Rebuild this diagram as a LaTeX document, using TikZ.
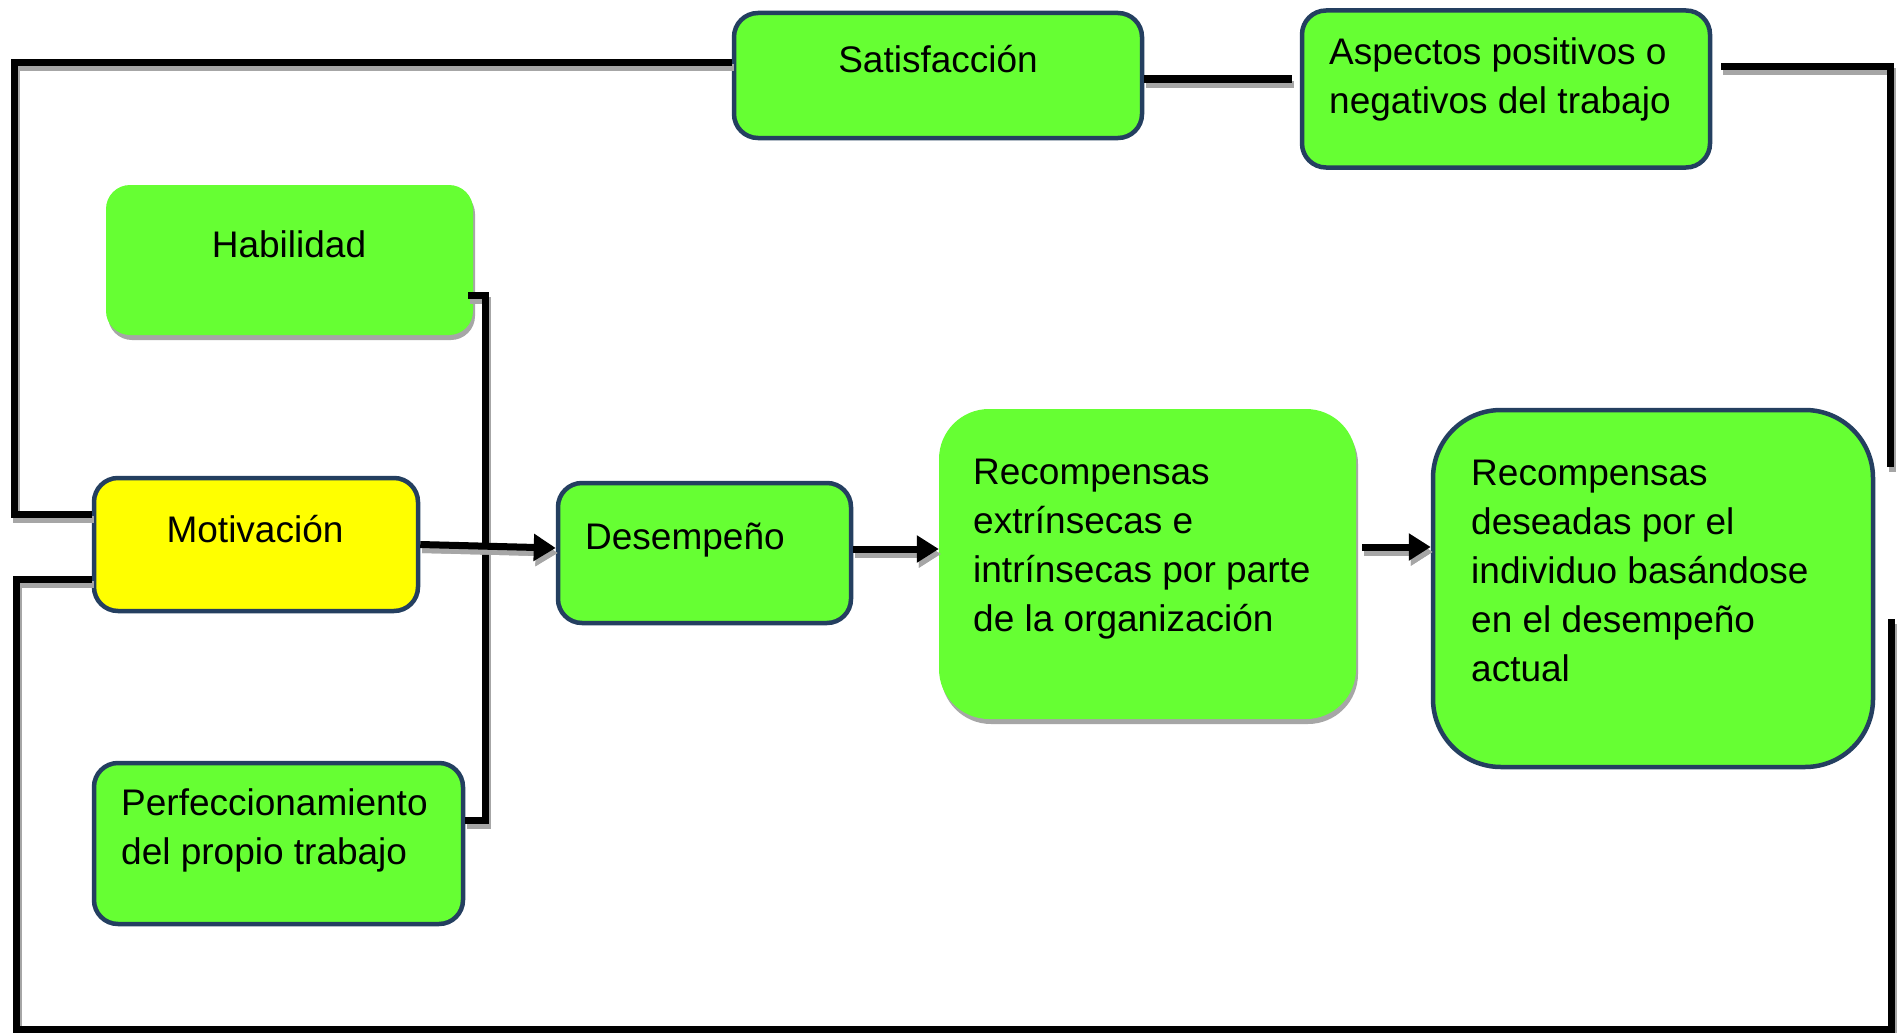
\documentclass[tikz,border=0pt]{standalone}
\usepackage{fontspec}
\setmainfont{Liberation Sans}
\usetikzlibrary{arrows.meta,shadows}
\definecolor{boxgreen}{HTML}{66FF33}
\definecolor{boxyellow}{HTML}{FFFF00}
\definecolor{boxborder}{HTML}{243F60}
\definecolor{shadowgray}{HTML}{A6A6A6}
\tikzset{
  box/.style={rounded corners=24pt, fill=boxgreen, draw=boxborder, line width=4.5pt, inner sep=0pt},
  flatbox/.style={rounded corners=24pt, fill=boxgreen, inner sep=0pt,
     drop shadow={shadow xshift=2pt, shadow yshift=-5pt, fill=shadowgray, opacity=1}},
  txt/.style={inner sep=0pt, font=\fontsize{37}{49}\selectfont, align=left},
  conn/.style={line width=7pt, black,
     preaction={draw=shadowgray, line width=7pt, transform canvas={shift={(2pt,-5pt)}}}},
  arr/.style={conn, -{Triangle[length=22pt,width=26pt]},
     preaction={draw=shadowgray, line width=7pt, -{Triangle[length=22pt,width=26pt]}, transform canvas={shift={(2pt,-5pt)}}}},
}
\begin{document}
\begin{tikzpicture}[x=1pt,y=-1pt]
\useasboundingbox (0,0) rectangle (1903,1033);
\fill[white] (0,0) rectangle (1903,1033);

% boxes
\node[box, minimum width=408pt, minimum height=125pt] (sat) at (938,75.5) {};
\node[box, minimum width=408pt, minimum height=157pt] (asp) at (1506,89) {};
\node[flatbox, minimum width=367pt, minimum height=150pt] (hab) at (289.5,260) {};
\node[box, fill=boxyellow, minimum width=324pt, minimum height=133pt] (mot) at (256,544.5) {};
\node[box, minimum width=369pt, minimum height=161pt] (per) at (278.5,843.5) {};
\node[box, minimum width=293pt, minimum height=140pt] (des) at (704.5,553) {};
\node[flatbox, rounded corners=50pt, minimum width=417pt, minimum height=310pt] (rext) at (1147.5,564) {};
\node[box, rounded corners=68pt, minimum width=440pt, minimum height=357pt] (rdes) at (1653,588.5) {};

% texts
\node[txt, anchor=base] (tsat) at (938,72) {Satisfacción};
\node[txt, anchor=north west] (tasp) at (1329,37) {Aspectos positivos o\\negativos del trabajo};
\node[txt, anchor=base] (thab) at (289,257) {Habilidad};
\node[txt, anchor=base] (tmot) at (255,542) {Motivación};
\node[txt, anchor=north west] (tper) at (121,788) {Perfeccionamiento\\del propio trabajo};
\node[txt, anchor=base west] (tdes) at (585,549) {Desempeño};
\node[txt, anchor=north west] (text) at (973,459) {Recompensas\\extrínsecas e\\intrínsecas por parte\\de la organización};
\node[txt, anchor=north west] (tdesd) at (1471,460) {Recompensas\\deseadas por el\\individuo basándose\\en el desempeño\\actual};

% loop coordinates
\coordinate (tl) at (14,63);
\coordinate (ml) at (14,514);
\coordinate (bl) at (16,579);
\coordinate (bb) at (16,1029);
\coordinate (br) at (1891,1029);
\coordinate (brt) at (1891,619);
\coordinate (tr) at (1890,67);
\coordinate (trb) at (1890,467);
\coordinate (sa) at (0,79);
\coordinate (hb) at (485,295);
\coordinate (pb) at (485,820);
\coordinate (a1) at (0,548);
\coordinate (a2) at (0,549);
\coordinate (ar) at (0,547);

% connectors
\draw[conn] (sat.west |- tl) -- (tl) -- (ml) -- (mot.west |- ml);
\draw[conn] (mot.west |- bl) -- (bl) -- (bb) -- (br) -- (brt);
\draw[conn, shorten <=9pt] (asp.east |- tr) -- (tr) -- (trb);
\draw[conn, shorten >=8pt] (sat.east |- sa) -- (asp.west |- sa);
\draw[conn] ([xshift=-5pt]hab.east |- hb) -- (hb) -- (pb) -- (per.east |- pb);
\draw[arr] (mot.east) -- (des.west |- a1);
\draw[arr] (des.east |- a2) -- (rext.west |- a2);
\draw[arr, shorten <=6pt] (rext.east |- ar) -- (rdes.west |- ar);
\end{tikzpicture}
\end{document}
